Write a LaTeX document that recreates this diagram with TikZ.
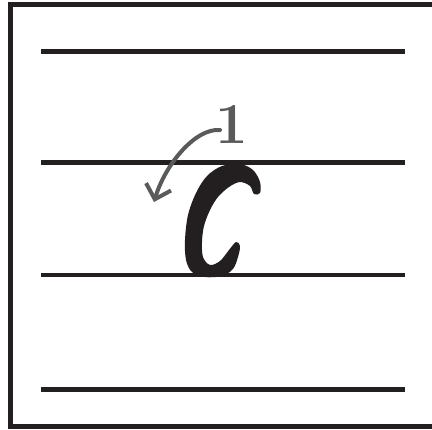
\documentclass[tikz,border=0pt]{standalone}
\usepackage{fontspec}
\usetikzlibrary{arrows.meta}
\definecolor{InkBlack}{HTML}{231F20}
\definecolor{GuideGray}{HTML}{5A5A5A}

\begin{document}
\begin{tikzpicture}[x=1pt, y=-1pt]
        \useasboundingbox (0,0) rectangle (432,430);
        \clip (0,0) rectangle (432,430);
        \fill[white] (0,0) rectangle (432,430);
        \draw[InkBlack, line width=5.5pt] (10.5,4.5) rectangle (450,426.5);
        \foreach \y in {51.5,162.5,275,389.5} {
            \draw[InkBlack, line width=4.5pt] (41,\y) -- (405,\y);
        }
        \fill[InkBlack] plot[smooth cycle, tension=0.55] coordinates {
            (260,193) (260,182) (253,170) (240,164) (222,166) (207,176)
            (196,193) (188,215) (185,240) (186,260) (192,272) (205,277)
            (222,276) (233,269) (238,257) (240,246) (236,242)
            (229,250) (220,261) (210,265) (203,257) (202,242) (204,226)
            (210,210) (218,197) (229,187) (240,182) (250,186) (254,194)};
        \node[GuideGray, font=\fontsize{58}{58}\selectfont\bfseries] (one) at (231.5,124) {1};
        \coordinate (arrowstart) at (220,130);
        \coordinate (arrowend) at (154,202);
        \draw[GuideGray, line width=4pt, line cap=round,
            -{Straight Barb[length=13pt,width=26pt]}]
            (arrowstart) .. controls (195,128) and (165,165) .. (arrowend);
    \end{tikzpicture}
\end{document}
